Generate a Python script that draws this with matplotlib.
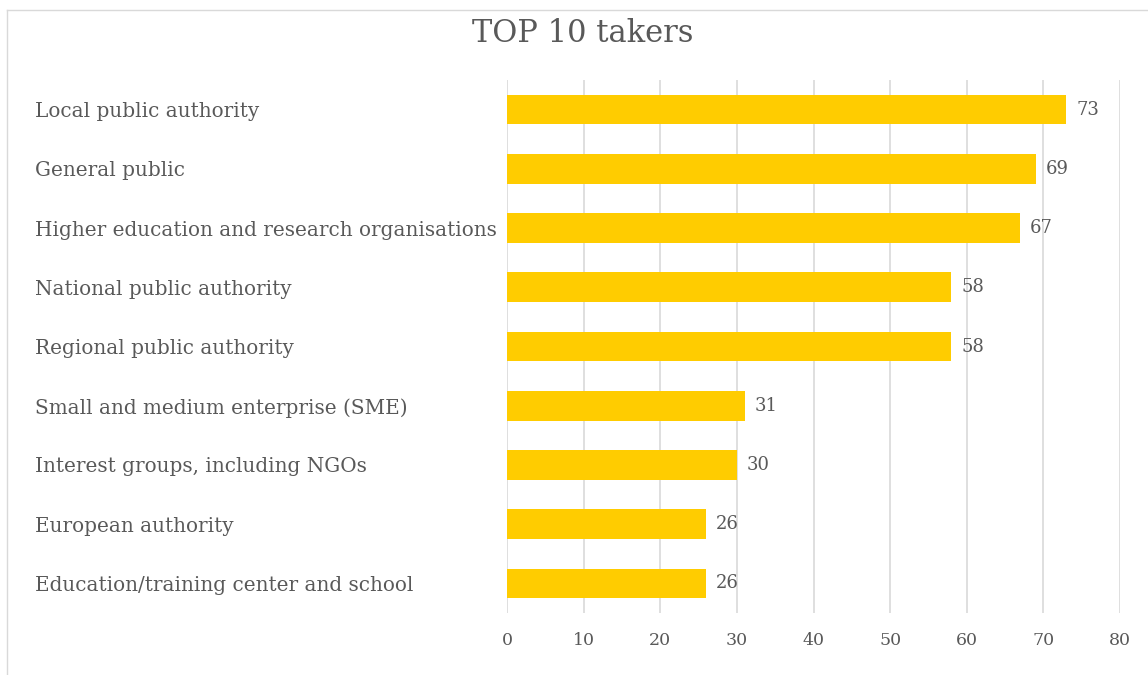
import matplotlib
matplotlib.use("Agg")
import matplotlib.pyplot as plt
from matplotlib.lines import Line2D

# data (top to bottom as shown)
categories = ["Local public authority", "General public",
              "Higher education and research organisations",
              "National public authority", "Regional public authority",
              "Small and medium enterprise (SME)",
              "Interest groups, including NGOs", "European authority",
              "Education/training center and school"]
values = [73, 69, 67, 58, 58, 31, 30, 26, 26]
xticks = [0, 10, 20, 30, 40, 50, 60, 70, 80]

plt.rcParams['font.family'] = ['DejaVu Serif']
txt = '#595959'

fig = plt.figure(figsize=(11.48, 6.75), dpi=100)
ax = fig.add_axes([507/1148, 1 - 613/675, (1120-507)/1148, (613-80)/675])

ypos = list(range(len(categories)))
ax.barh(ypos, values, height=0.5, color='#FFCC00', zorder=3)
ax.set_ylim(len(categories) - 0.5, -0.5)
ax.set_xlim(0, 80)
ax.set_xticks(xticks)
ax.set_xticklabels([str(t) for t in xticks], color=txt, fontsize=12.5)
ax.set_yticks(ypos)
ax.set_yticklabels(categories, color=txt, fontsize=14.4)
for lab in ax.get_yticklabels():
    lab.set_horizontalalignment('left')
ax.tick_params(axis='y', length=0, pad=(507-35)*0.72)
ax.tick_params(axis='x', length=0, pad=14)
ax.grid(axis='x', color='#d9d9d9', linewidth=1.2, zorder=0)
for s in ax.spines.values():
    s.set_visible(False)

for y, v in zip(ypos, values):
    ax.annotate(str(v), (v, y), xytext=(7, 0), textcoords='offset points',
                va='center', ha='left', color=txt, fontsize=13)

fig.text(583/1148, 1 - 33/675, "TOP 10 takers", ha='center', va='center',
         fontsize=22, color=txt)

# light chart-area border (top and left edges visible)
fig.add_artist(Line2D([7/1148, 1], [1 - 10/675, 1 - 10/675], transform=fig.transFigure,
                      color='#d9d9d9', linewidth=1))
fig.add_artist(Line2D([7/1148, 7/1148], [0, 1 - 10/675], transform=fig.transFigure,
                      color='#d9d9d9', linewidth=1))

plt.savefig('out.png')
